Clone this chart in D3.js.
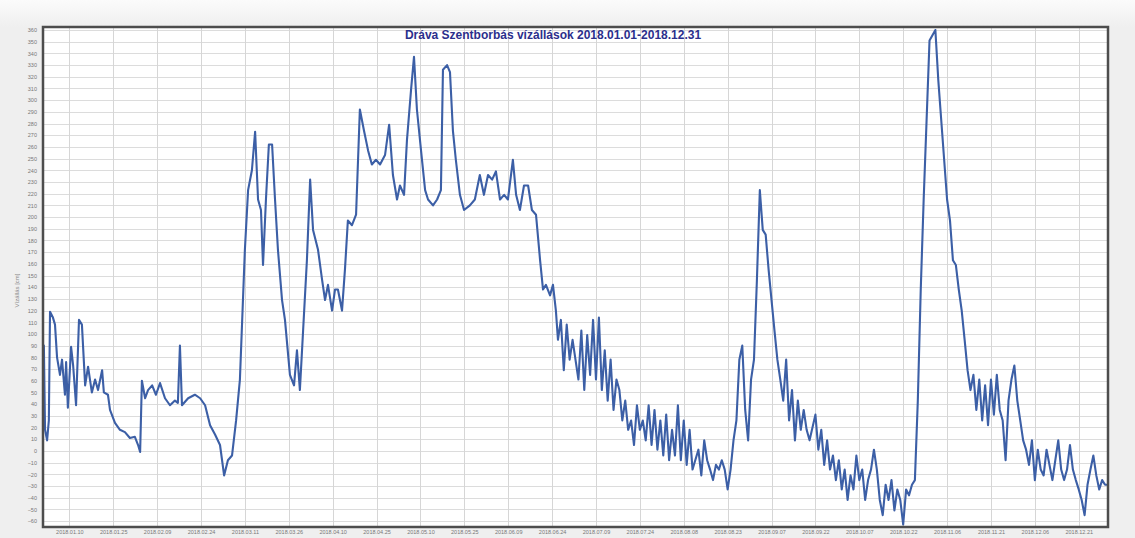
<!DOCTYPE html>
<html>
<head>
<meta charset="utf-8">
<script src="https://cdn.jsdelivr.net/npm/d3@7"></script>
<style>
  html, body { margin: 0; padding: 0; background: #efefef; }
  svg { display: block; }
</style>
</head>
<body>
<svg id="chart" width="1135" height="538"></svg>
<script>
// Dráva, Szentborbás gauge — daily water levels for 2018 (cm)
const chartTitle = "Dráva Szentborbás vízállások 2018.01.01-2018.12.31";
const yAxisTitle = "Vízállás [cm]";

// day offset from 2018-01-01 (UTC) for each reading
const dayOffset = [
  0, 0.3, 0.7, 1.4, 2, 2.4, 3.4, 4.1, 4.8, 5.8, 6.5, 7.5, 7.9, 8.5, 9.6, 10.3, 11.3, 12.3, 13.3, 14.4,
  15.4, 16.7, 17.8, 18.8, 20.2, 20.8, 22.2, 22.9, 24.6, 26.3, 28, 29.7, 31.4, 32.5, 33.2, 33.8, 34.9, 35.9, 37.3, 38.6,
  40, 41.7, 43.4, 45.1, 46.1, 46.8, 47.5, 49.6, 51.9, 53.7, 55.4, 57.1, 58.8, 60.5, 61.9, 63.2, 64.6, 66, 67.3, 69,
  70.1, 71.4, 72.5, 73.5, 74.5, 75.2, 76.2, 77.2, 78.3, 79.3, 80.3, 81.7, 82.7, 84.4, 85.8, 86.8, 87.8, 88.9, 90.2, 91.3,
  92.3, 94, 95.4, 96.4, 97.4, 98.8, 99.8, 100.8, 102.2, 103.2, 104.2, 105.6, 107, 108.3, 109.7, 111.1, 112.4, 113.8, 115.2, 116.9,
  118.3, 119.6, 121, 122, 123.4, 124.4, 125.8, 126.8, 127.8, 129.2, 130.6, 131.6, 133.3, 134.7, 136, 136.7, 138.1, 139.1, 140.1, 141.1,
  142.5, 143.9, 145.9, 147.6, 149.3, 150.7, 152.1, 153.5, 154.8, 156.2, 157.6, 158.9, 160.6, 161.7, 163, 164.4, 165.8, 167.1, 168.5, 169.9,
  170.9, 171.9, 173.3, 174.3, 175.3,
  176, 177, 178, 179, 180, 181,
  183, 184, 185, 186, 187, 188, 189, 190, 191, 192, 193, 194, 195, 196, 197, 198, 199, 200, 201, 202,
  203, 204, 205, 206, 207, 208, 209, 210, 211, 212, 213, 214, 215, 216, 217, 218, 219, 220, 221, 222,
  224, 225, 226, 227, 228, 229, 230, 231, 232, 233, 234, 235, 236, 237, 238, 239, 240, 241, 242, 243,
  244, 245, 246, 247, 248, 249, 250, 251, 252, 253, 254, 255, 256, 257, 258, 259, 260, 261, 262,
  264, 265, 266, 267, 268, 269, 270, 271, 272, 273, 274, 275, 276, 277, 278, 279, 280, 281, 282, 283,
  284, 285, 286, 287, 288, 289, 290, 291, 292, 293, 294, 295, 296, 297, 298, 299, 300, 301, 302, 303,
  305, 306, 307, 308, 309, 310, 311, 312, 313, 314, 315, 316, 317, 318, 319, 320, 321, 322, 323, 324,
  325, 326, 327, 328, 329, 330, 331, 332, 333, 334, 335, 336, 337, 338, 339, 340, 341, 342, 343,
  345, 346, 347, 348, 349, 350, 351, 352, 353, 354, 355, 356, 357, 358, 359, 360, 361, 362, 363, 364
];

// water level (cm) for each reading above
const waterLevel = [
  35, 90, 18, 9, 26, 119, 114, 108, 80, 65, 78, 48, 76, 37, 89, 73, 39, 112, 108, 56,
  72, 50, 61, 52, 69, 50, 48, 35, 24, 18, 16, 11, 12, 5, -1, 60, 45, 52, 56, 48,
  58, 45, 39, 43, 41, 90, 39, 45, 48, 45, 39, 22, 14, 5, -21, -8, -4, 26, 61, 172,
  223, 240, 273, 215, 206, 159, 215, 262, 262, 215, 172, 129, 112, 65, 56, 86, 52, 103, 163, 232,
  189, 172, 146, 129, 142, 120, 138, 138, 120, 155, 197, 193, 202, 292, 274, 257, 245, 249, 245, 253,
  279, 236, 215, 227, 219, 266, 309, 337, 292, 257, 223, 215, 210, 215, 223, 326, 330, 324, 274, 249,
  219, 206, 210, 215, 236, 219, 236, 232, 239, 215, 219, 215, 249, 219, 206, 227, 227, 206, 202, 163,
  138, 142, 133, 142, 120,
  95, 112, 69, 108, 78, 95,
  61, 103, 52, 99, 65, 112, 61, 114, 52, 86, 43, 78, 35, 61, 52, 26, 43, 18, 26, 5,
  39, 18, 26, 9, 39, 5, 35, 1, 26, -4, 31, -8, 18, -4, 39, -8, 26, -12, 18, -16,
  1, -21, 9, -8, -16, -25, -12, -16, -8, -16, -33, -16, 9, 26, 78, 90, 35, 9, 61, 78,
  146, 223, 189, 185, 155, 129, 103, 78, 61, 43, 78, 26, 52, 9, 43, 18, 35, 18, 9,
  31, 1, 18, -12, 9, -16, -4, -25, -8, -33, -16, -42, -21, -33, -4, -25, -16, -42, -25, -16,
  1, -16, -42, -55, -29, -42, -25, -51, -33, -42, -63, -33, -38, -29, -25, 43, 138, 215, 283, 351,
  360, 317, 283, 249, 215, 197, 163, 159, 138, 120, 95, 69, 52, 65, 35, 61, 26, 56, 22, 61,
  31, 65, 35, 26, -8, 43, 61, 73, 43, 26, 9, 1, -12, 9, -25, 1, -16, -21, 1,
  -25, -8, 9, -16, -25, -16, 5, -16, -25, -33, -42, -55, -29, -16, -4, -21, -33, -25, -29, -29
];

// labelled date gridlines (every 15 days)
const tickLabels = [
  "2018.01.10", "2018.01.25", "2018.02.09", "2018.02.24", "2018.03.11", "2018.03.26",
  "2018.04.10", "2018.04.25", "2018.05.10", "2018.05.25", "2018.06.09", "2018.06.24",
  "2018.07.09", "2018.07.24", "2018.08.08", "2018.08.23", "2018.09.07", "2018.09.22",
  "2018.10.07", "2018.10.22", "2018.11.06", "2018.11.21", "2018.12.06", "2018.12.21"
];

// level axis labels (cm)
const levelTicks = d3.range(-60, 361, 10);

const svg = d3.select("#chart");
const W = 1135, H = 538;
const box = { left: 43, top: 27, right: 1108, bottom: 527 };

const start = Date.UTC(2018, 0, 1);
const dayMs = 864e5;
const parseTick = d3.utcParse("%Y.%m.%d");

const x = d3.scaleUtc()
  .domain([new Date(start), new Date(Date.UTC(2018, 11, 31))])
  .range([box.left, box.right]);
const y = d3.scaleLinear().domain([-60, 360]).range([521, 30]);

const data = dayOffset.map((d, i) => ({ date: new Date(start + d * dayMs), level: waterLevel[i] }));

// panel background
svg.append("rect").attr("width", W).attr("height", H).attr("fill", "#efefef");
const bg = svg.append("defs").append("linearGradient").attr("id", "topfade")
  .attr("x1", 0).attr("y1", 0).attr("x2", 0).attr("y2", 1);
bg.append("stop").attr("offset", 0).attr("stop-color", "#fbfbfb");
bg.append("stop").attr("offset", 1).attr("stop-color", "#efefef");
svg.append("rect").attr("width", W).attr("height", 27).attr("fill", "url(#topfade)");

svg.append("rect")
  .attr("x", box.left).attr("y", box.top)
  .attr("width", box.right - box.left).attr("height", box.bottom - box.top)
  .attr("fill", "#ffffff");

svg.select("defs").append("clipPath").attr("id", "plotclip")
  .append("rect")
  .attr("x", box.left).attr("y", box.top)
  .attr("width", box.right - box.left).attr("height", box.bottom - box.top);

// horizontal gridlines
svg.append("g")
  .selectAll("line").data(levelTicks).join("line")
  .attr("x1", box.left).attr("x2", box.right)
  .attr("y1", d => Math.round(y(d)) + 0.5).attr("y2", d => Math.round(y(d)) + 0.5)
  .attr("stroke", "#dcdcdc").attr("stroke-width", 1);

// vertical gridlines
const tickDates = tickLabels.map(parseTick);
svg.append("g")
  .selectAll("line").data(tickDates).join("line")
  .attr("x1", d => Math.round(x(d)) + 0.5).attr("x2", d => Math.round(x(d)) + 0.5)
  .attr("y1", box.top).attr("y2", box.bottom)
  .attr("stroke", "#d6d6d6").attr("stroke-width", 1);

// y axis labels
const yAxis = d3.axisLeft(y).tickValues(levelTicks).tickSize(0).tickPadding(0);
svg.append("g")
  .attr("transform", `translate(${box.left - 6},0)`)
  .call(yAxis)
  .call(g => g.select(".domain").remove())
  .call(g => g.selectAll("text")
    .attr("font-family", "Liberation Sans, Arial, sans-serif")
    .attr("font-size", 5.5).attr("fill", "#777"));

// x axis labels
const xAxis = d3.axisBottom(x).tickValues(tickDates).tickFormat(d3.utcFormat("%Y.%m.%d"))
  .tickSize(0).tickPadding(0);
svg.append("g")
  .attr("transform", `translate(0,${box.bottom + 3})`)
  .call(xAxis)
  .call(g => g.select(".domain").remove())
  .call(g => g.selectAll("text")
    .attr("font-family", "Liberation Sans, Arial, sans-serif")
    .attr("font-size", 5.5).attr("fill", "#777"));

// y axis title
svg.append("text")
  .attr("transform", `translate(19,${(y(360) + y(-60)) / 2 + 15}) rotate(-90)`)
  .attr("text-anchor", "middle")
  .attr("font-family", "Liberation Sans, Arial, sans-serif")
  .attr("font-size", 6).attr("fill", "#888")
  .text(yAxisTitle);

// water level line
const line = d3.line().x(d => x(d.date)).y(d => y(d.level));
svg.append("path")
  .datum(data)
  .attr("clip-path", "url(#plotclip)")
  .attr("d", line)
  .attr("fill", "none")
  .attr("stroke", "#3c5fa6")
  .attr("stroke-width", 2.1)
  .attr("stroke-linejoin", "round");

// frame
svg.append("rect")
  .attr("x", box.left).attr("y", box.top)
  .attr("width", box.right - box.left).attr("height", box.bottom - box.top)
  .attr("fill", "none").attr("stroke", "#4d4d4d").attr("stroke-width", 2.5);

// title
svg.append("text")
  .attr("x", 553).attr("y", 39)
  .attr("text-anchor", "middle")
  .attr("font-family", "Liberation Sans, Arial, sans-serif")
  .attr("font-weight", "bold").attr("font-size", 12)
  .attr("fill", "#2b2f8c")
  .text(chartTitle);
</script>
</body>
</html>
